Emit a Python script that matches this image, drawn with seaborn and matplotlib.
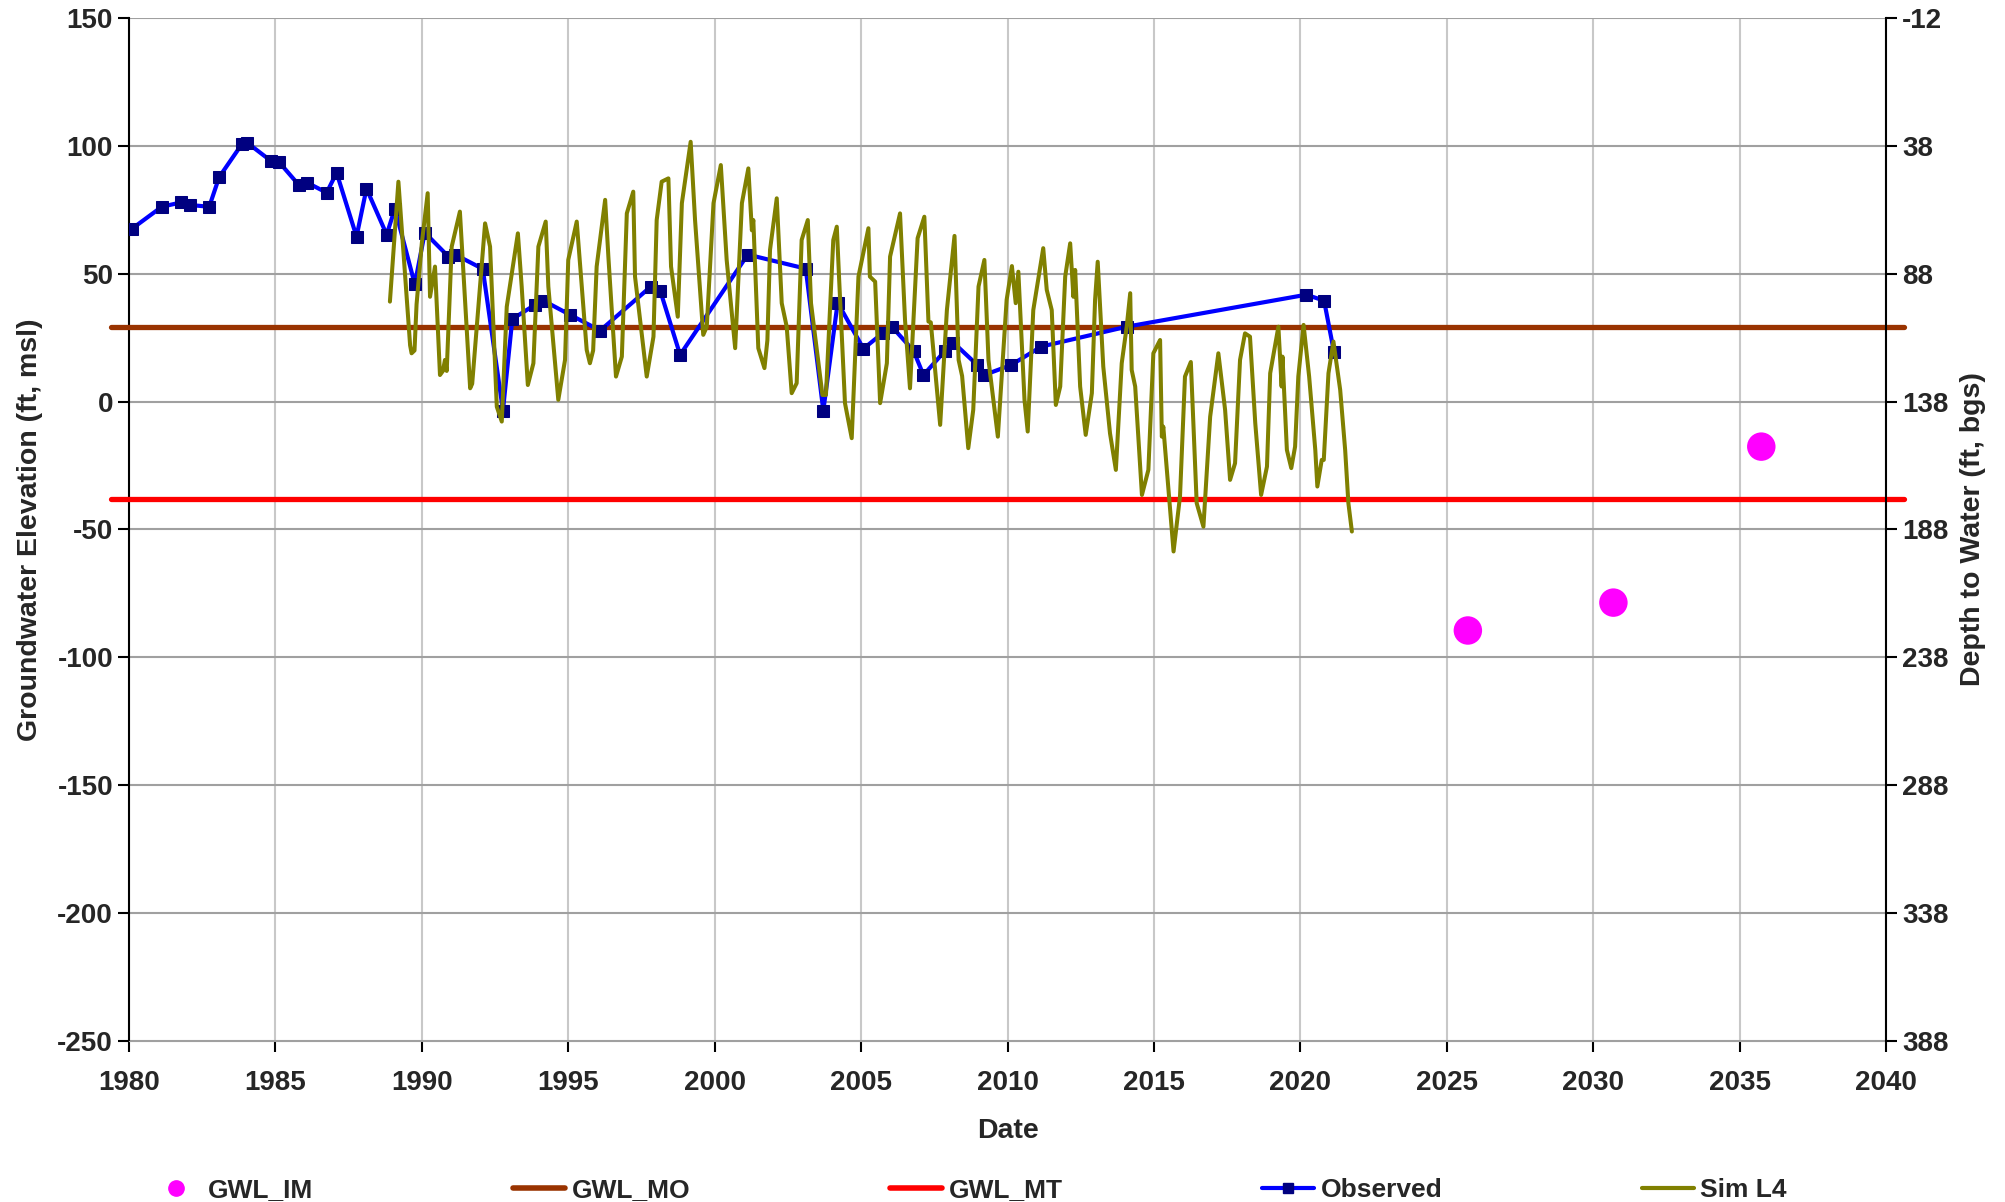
import numpy as np
import pandas as pd
import matplotlib
matplotlib.use("Agg")
import matplotlib.pyplot as plt
import seaborn as sns
from matplotlib.lines import Line2D

# observed groundwater elevation (ft, msl) - decimal years
obs_year = [1980.09, 1981.12, 1981.78, 1982.07, 1982.74, 1983.08, 1983.85, 1984.03,
            1984.85, 1985.13, 1985.80, 1986.09, 1986.75, 1987.09, 1987.77, 1988.11,
            1988.80, 1989.08, 1989.76, 1990.10, 1990.91, 1991.14, 1992.08, 1992.77,
            1993.09, 1993.87, 1994.15, 1995.07, 1996.09, 1997.82, 1998.14, 1998.82,
            2001.13, 2003.11, 2003.71, 2004.20, 2005.08, 2005.76, 2006.05, 2006.79,
            2007.13, 2007.87, 2008.15, 2008.97, 2009.18, 2010.12, 2011.15, 2014.07,
            2020.20, 2020.81, 2021.15]
obs_val = [67.5, 76.2, 77.9, 76.9, 76.2, 87.8, 100.6, 101.3,
           94.1, 93.6, 84.7, 85.6, 81.7, 89.5, 64.5, 83.3,
           65.3, 75.5, 45.9, 66.1, 56.7, 57.5, 51.9, -3.5,
           32.3, 37.9, 39.5, 33.9, 27.8, 45.0, 43.4, 18.3,
           57.5, 52.0, -3.5, 38.7, 20.7, 27.0, 29.3, 19.9,
           10.4, 19.9, 23.1, 14.3, 10.3, 14.3, 21.5, 29.3,
           41.8, 39.5, 19.3]

# simulated (Sim L4)
sim_year = [1988.91, 1989.20, 1989.60, 1989.65, 1989.75, 1989.82, 1990.00, 1990.20,
            1990.28, 1990.45, 1990.62, 1990.72, 1990.79, 1990.85, 1991.02, 1991.30,
            1991.65, 1991.72, 1992.16, 1992.33, 1992.56, 1992.73, 1992.90, 1993.28,
            1993.41, 1993.62, 1993.81, 1993.98, 1994.23, 1994.32, 1994.66, 1994.89,
            1995.00, 1995.29, 1995.63, 1995.74, 1995.85, 1995.97, 1996.26, 1996.37,
            1996.63, 1996.83, 1997.00, 1997.22, 1997.28, 1997.68, 1997.91, 1998.02,
            1998.19, 1998.42, 1998.51, 1998.74, 1998.88, 1999.18, 1999.33, 1999.61,
            1999.73, 1999.96, 2000.21, 2000.41, 2000.70, 2000.93, 2001.15, 2001.27,
            2001.32, 2001.49, 2001.70, 2001.80, 2001.89, 2002.12, 2002.29, 2002.46,
            2002.63, 2002.80, 2002.97, 2003.18, 2003.29, 2003.68, 2003.80, 2004.05,
            2004.17, 2004.25, 2004.45, 2004.68, 2004.91, 2005.25, 2005.30, 2005.48,
            2005.65, 2005.88, 2005.99, 2006.16, 2006.33, 2006.50, 2006.67, 2006.93,
            2007.16, 2007.30, 2007.38, 2007.70, 2007.93, 2008.19, 2008.33, 2008.45,
            2008.66, 2008.83, 2009.01, 2009.21, 2009.35, 2009.67, 2009.97, 2010.15,
            2010.28, 2010.37, 2010.58, 2010.69, 2010.88, 2011.22, 2011.34, 2011.51,
            2011.65, 2011.80, 2011.97, 2012.14, 2012.25, 2012.31, 2012.48, 2012.67,
            2012.88, 2012.99, 2013.08, 2013.27, 2013.50, 2013.70, 2013.90, 2014.07,
            2014.19, 2014.24, 2014.36, 2014.59, 2014.81, 2014.98, 2015.21, 2015.27,
            2015.32, 2015.67, 2015.89, 2016.06, 2016.26, 2016.46, 2016.69, 2016.92,
            2017.20, 2017.43, 2017.60, 2017.77, 2017.94, 2018.11, 2018.28, 2018.46,
            2018.66, 2018.86, 2018.97, 2019.25, 2019.36, 2019.39, 2019.54, 2019.69,
            2019.82, 2019.93, 2020.11, 2020.30, 2020.51, 2020.58, 2020.73, 2020.80,
            2020.96, 2021.13, 2021.36, 2021.53, 2021.64, 2021.76]
sim_val = [39.1, 86.0, 22.0, 18.9, 20.0, 38.0, 62.0, 81.5,
           41.0, 52.8, 10.4, 12.0, 16.3, 12.0, 60.6, 74.3,
           5.2, 7.0, 69.7, 60.6, -2.0, -7.8, 37.1, 65.8,
           45.0, 6.5, 15.0, 60.6, 70.4, 45.0, 0.7, 16.3,
           55.4, 70.4, 20.2, 15.0, 20.0, 52.8, 78.9, 56.7,
           9.8, 17.6, 73.6, 82.1, 48.9, 9.8, 25.4, 71.0,
           86.0, 87.3, 52.8, 33.2, 77.6, 101.6, 71.0, 26.1,
           29.3, 77.6, 92.5, 55.4, 20.9, 77.6, 91.2, 67.0,
           71.0, 20.9, 13.1, 24.0, 59.3, 79.5, 38.5, 29.3,
           3.3, 7.2, 63.2, 71.0, 38.5, 2.6, 2.6, 63.2,
           68.4, 48.0, -0.6, -14.3, 48.9, 67.8, 48.9, 46.9,
           -0.6, 15.0, 56.7, 65.2, 73.6, 31.9, 5.2, 63.9,
           72.3, 31.3, 31.0, -9.1, 35.8, 64.8, 16.3, 10.0,
           -18.2, -3.2, 45.0, 55.4, 16.3, -13.7, 39.8, 53.0,
           38.5, 50.8, 0.7, -11.7, 35.8, 60.0, 43.7, 35.8,
           -1.3, 5.9, 48.9, 61.9, 41.0, 51.5, 5.9, -13.0,
           3.3, 39.8, 54.7, 13.7, -12.4, -26.7, 15.0, 29.3,
           42.4, 12.4, 5.9, -36.5, -26.7, 18.9, 24.1, -13.7,
           -9.8, -58.6, -37.1, 9.8, 15.5, -39.7, -48.9, -5.9,
           18.9, -3.2, -30.6, -24.1, 16.3, 26.7, 25.4, -8.4,
           -36.5, -25.4, 11.1, 29.3, 5.9, 17.6, -18.9, -26.0,
           -17.6, 9.8, 30.0, 9.8, -18.9, -33.2, -22.8, -22.8,
           11.1, 23.5, 4.6, -18.9, -39.7, -50.8]

# interim milestones
im_year = [2025.72, 2030.69, 2035.74]
im_val = [-89.5, -78.6, -17.6]

# thresholds
mo_year = [1979.4, 2040.6]
mo_val = [29, 29]
mt_year = [1979.4, 2040.6]
mt_val = [-38, -38]

ground_elev = 138  # depth = ground_elev - elevation

sns.set_style("white")
plt.rcParams['font.family'] = ['Liberation Sans', 'DejaVu Sans']
plt.rcParams['font.weight'] = 'bold'
plt.rcParams['axes.unicode_minus'] = False

fig = plt.figure(figsize=(20.06, 12.02), dpi=100)
ax = fig.add_axes([0.0643, 0.134, 0.8759, 0.851])

ax.grid(True, axis='y', color='#a0a0a0', lw=1.5, zorder=0)
ax.grid(True, axis='x', color='#c8c8c8', lw=1.5, zorder=0)
ax.set_axisbelow(True)

df_im = pd.DataFrame({'year': im_year, 'val': im_val})
sns.scatterplot(data=df_im, x='year', y='val', ax=ax, color='#FF00FF', s=420,
                edgecolor='none', zorder=3)
ax.plot(mo_year, mo_val, color='#993300', lw=3.8, clip_on=False, zorder=3)
ax.plot(mt_year, mt_val, color='#FF0000', lw=3.8, clip_on=False, zorder=3)

df_obs = pd.DataFrame({'year': obs_year, 'val': obs_val})
sns.lineplot(data=df_obs, x='year', y='val', ax=ax, color='#0000FF', lw=3,
             marker='s', markersize=8, markerfacecolor='#000080',
             markeredgecolor='#000080', zorder=4)
df_sim = pd.DataFrame({'year': sim_year, 'val': sim_val})
sns.lineplot(data=df_sim, x='year', y='val', ax=ax, color='#808000', lw=2.9, zorder=5)

ax.set_xlim(1980, 2040)
ax.set_ylim(-250, 150)
ax.set_xticks(range(1980, 2041, 5))
ax.set_yticks(range(-250, 151, 50))
ax.set_xlabel('Date', fontsize=20.5, fontweight='bold', labelpad=16)
ax.set_ylabel('Groundwater Elevation (ft, msl)', fontsize=20.5, fontweight='bold', labelpad=10)
ax.tick_params(axis='both', labelsize=20, length=8, width=1.5, direction='out',
               color='black', left=True, bottom=True)
ax.tick_params(axis='x', pad=13)
ax.spines['top'].set_visible(False)
ax.spines['left'].set_color('black')
ax.spines['left'].set_linewidth(1.5)
ax.spines['bottom'].set_color('#a0a0a0')
ax.spines['right'].set_visible(False)

ax2 = ax.twinx()
ax2.set_ylim(ground_elev + 250, ground_elev - 150)
ax2.set_yticks(range(-12, 389, 50))
ax2.set_ylabel('Depth to Water (ft, bgs)', fontsize=20.5, fontweight='bold',
               rotation=90, labelpad=8)
ax2.tick_params(axis='y', labelsize=20, length=8, width=1.5, direction='out',
                color='black', right=True)
ax2.spines['right'].set_color('black')
ax2.spines['right'].set_linewidth(1.5)
for s in ['top', 'left', 'bottom']:
    ax2.spines[s].set_visible(False)
ax2.grid(False)

handles = [
    Line2D([], [], ls='none', marker='o', color='#FF00FF', markersize=11),
    Line2D([], [], color='#993300', lw=4),
    Line2D([], [], color='#FF0000', lw=4),
    Line2D([], [], color='#0000FF', lw=3, marker='s', markersize=7,
           markerfacecolor='#000080', markeredgecolor='#000080'),
    Line2D([], [], color='#808000', lw=3),
]
labels = ['GWL_IM', 'GWL_MO', 'GWL_MT', 'Observed', 'Sim L4']
fig.legend(handles, labels, loc='lower left', ncol=5, mode='expand',
           bbox_to_anchor=(0.0748, 0.0, 0.816, 0.024), frameon=False,
           fontsize=19, handlelength=1.97, handletextpad=0.24,
           borderaxespad=0, borderpad=0)

fig.savefig('out.png', dpi=100)
